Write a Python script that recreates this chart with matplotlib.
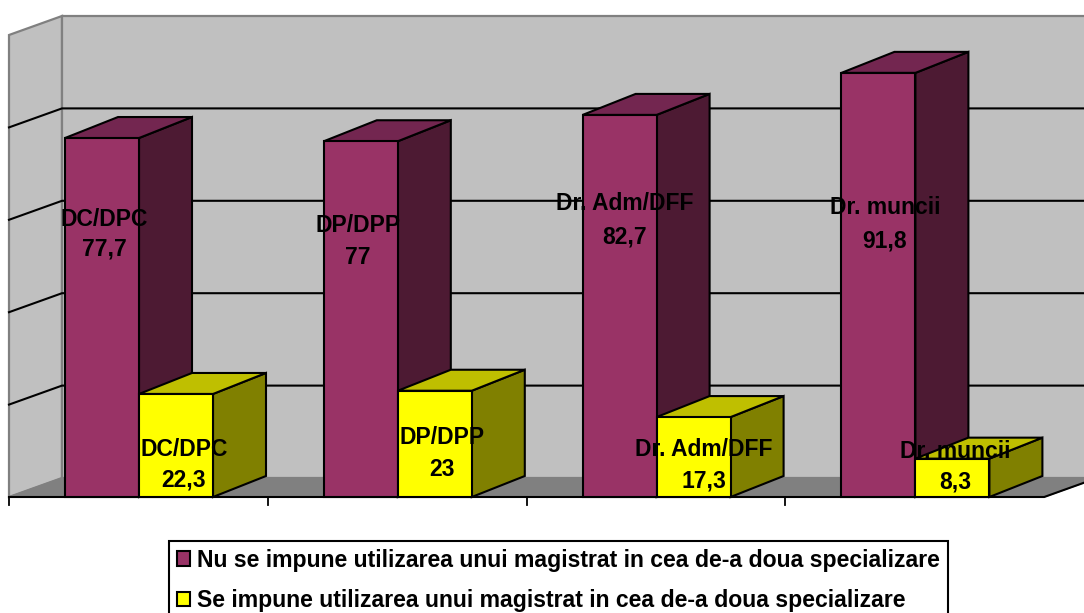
import matplotlib
matplotlib.use("Agg")
import matplotlib.pyplot as plt
from matplotlib.patches import Polygon, Patch

plt.rcParams['font.family'] = ['Liberation Sans', 'DejaVu Sans']

categories = ["DC/DPC", "DP/DPP", "Dr. Adm/DFF", "Dr. muncii"]
series_names = ["Nu se impune utilizarea unui magistrat in cea de-a doua specializare",
                "Se impune utilizarea unui magistrat in cea de-a doua specializare"]
nu_values = [77.7, 77, 82.7, 91.8]
se_values = [22.3, 23, 17.3, 8.3]
value_labels_nu = ["77,7", "77", "82,7", "91,8"]
value_labels_se = ["22,3", "23", "17,3", "8,3"]
grid_values = [20, 40, 60, 80]
y_max = 100

W, H = 1084, 613
CAT_PX, UNIT_PX = 258.8, 4.62
X0_PX, Y0_PX = 9.0, 497.0
DX = 53 / CAT_PX                # oblique depth in data units
WALL_DY = 19 / UNIT_PX
BAR_DY = 21 / UNIT_PX
BAR_W = 74 / CAT_PX
BAR_OFF = 56 / CAT_PX

fig = plt.figure(figsize=(W / 100, H / 100), dpi=100, facecolor="white")
ax = fig.add_axes([0, 0, 1, 1])
ax.set_xlim(-X0_PX / CAT_PX, (W - X0_PX) / CAT_PX)
ax.set_ylim((Y0_PX - H) / UNIT_PX, Y0_PX / UNIT_PX)
ax.axis("off")


def px(x, y):
    return (x - X0_PX) / CAT_PX, (Y0_PX - y) / UNIT_PX


n = len(categories)
xr = n
# walls and floor
ax.add_patch(Polygon([(0, 0), (DX, WALL_DY), (DX, y_max + WALL_DY), (0, y_max)], fc="#C0C0C0", ec="#808080", lw=1.6, zorder=1))
ax.add_patch(Polygon([(DX, WALL_DY), (xr + DX, WALL_DY), (xr + DX, y_max + WALL_DY), (DX, y_max + WALL_DY)], fc="#C0C0C0", ec="#808080", lw=1.6, zorder=1))
ax.add_patch(Polygon([(0, 0), (xr, 0), (xr + DX, WALL_DY), (DX, WALL_DY)], fc="#808080", ec="#808080", lw=1, zorder=2))
for g in grid_values:
    ax.plot([0, DX, xr + DX], [g, g + WALL_DY, g + WALL_DY], color="black", lw=1.5, zorder=2, solid_joinstyle="miter")
ax.plot([0, xr, xr + DX], [0, 0, WALL_DY], color="black", lw=1.5, zorder=3)
for i in range(n):
    ax.plot([i, i], [0, -8 / UNIT_PX], color="black", lw=1.3, zorder=3)


def bar3d(x, v, front, top, side, z):
    ax.add_patch(Polygon([(x + BAR_W, 0), (x + BAR_W + DX, BAR_DY), (x + BAR_W + DX, v + BAR_DY), (x + BAR_W, v)],
                         fc=side, ec="black", lw=1.5, zorder=z, joinstyle="miter"))
    ax.add_patch(Polygon([(x, v), (x + DX, v + BAR_DY), (x + BAR_W + DX, v + BAR_DY), (x + BAR_W, v)],
                         fc=top, ec="black", lw=1.5, zorder=z, joinstyle="miter"))
    ax.bar(x, v, BAR_W, align="edge", color=front, edgecolor="black", lw=1.5, zorder=z + 0.1)


for i in range(n):
    x1 = i + BAR_OFF
    bar3d(x1, nu_values[i], "#993366", "#732650", "#4D1A33", 5 + i * 2)
    bar3d(x1 + BAR_W, se_values[i], "#FFFF00", "#BFBF00", "#808000", 6 + i * 2)

label_px_nu = [(104, 219, 249), (358, 226, 257), (625, 204, 237), (885, 208, 241)]
label_px_se = [(184, 449, 480), (442, 438, 470), (704, 450, 481), (955, 451, 482)]
for i in range(n):
    for (cx, y1, y2), lab in [(label_px_nu[i], value_labels_nu[i]), (label_px_se[i], value_labels_se[i])]:
        ax.text(*px(cx, y1), categories[i], ha="center", va="center", fontsize=16.5, fontweight="bold", color="black", zorder=30)
        ax.text(*px(cx, y2), lab, ha="center", va="center", fontsize=16.5, fontweight="bold", color="black", zorder=30)

handles = [Patch(fc="#993366", ec="black", lw=1.5), Patch(fc="#FFFF00", ec="black", lw=1.5)]
leg = ax.legend(handles, series_names, loc="upper left", bbox_to_anchor=(169 / W, 1 - 541 / H),
                bbox_transform=fig.transFigure, handlelength=0.58, handleheight=0.58,
                handletextpad=0.31, labelspacing=0.75, borderaxespad=0, borderpad=0.33,
                fancybox=False, framealpha=1, edgecolor="black", prop={"weight": "bold", "size": 16.55})
leg.get_frame().set_linewidth(1.5)
leg.set_zorder(40)

fig.savefig("out.png", dpi=100)
